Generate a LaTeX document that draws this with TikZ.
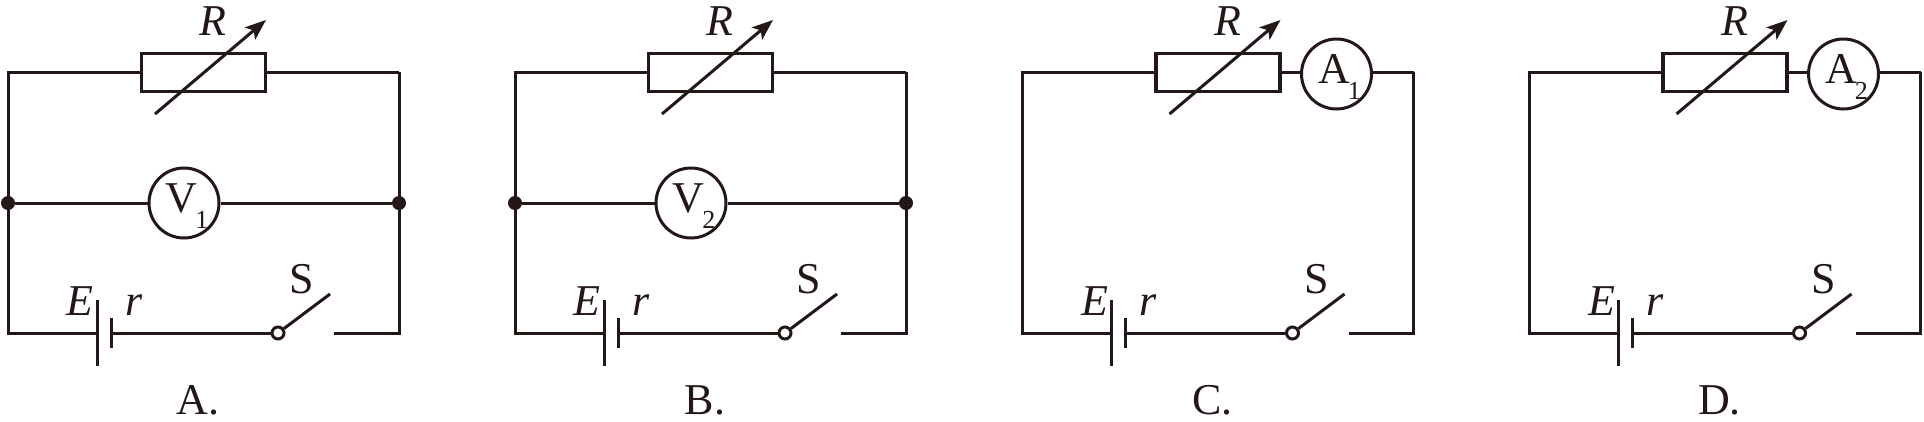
\documentclass[tikz,border=0pt]{standalone}
\usepackage{fontspec}
\setmainfont{Liberation Serif}
\usetikzlibrary{arrows.meta}
\definecolor{ink}{HTML}{231815}
\newcommand{\meterlabel}[2]{\hspace*{6pt}#1\kern-2pt\raisebox{-16pt}[18pt][10pt]{\fontsize{26}{26}\selectfont #2}}
\tikzset{
  wire/.style={draw=ink,line width=3pt,line join=miter},
  rheo/.style={draw=ink,line width=3.2pt,minimum width=124pt,minimum height=38pt,inner sep=0pt,fill=none},
  meter/.style={draw=ink,line width=3pt,circle,minimum size=70pt,inner sep=0pt,text=ink,font=\fontsize{44}{44}\selectfont},
  dotj/.style={circle,fill=ink,minimum size=14pt,inner sep=0pt},
  swpin/.style={circle,draw=ink,line width=3pt,fill=white,minimum size=12pt,inner sep=0pt},
  lab/.style={text=ink,inner sep=0pt,font=\fontsize{44}{44}\selectfont},
  slider/.style={wire,-{Stealth[length=21pt,width=16pt,inset=5pt]}}
}
% common part of each circuit: #1 shift, #2 panel letter
\newcommand{\common}[2]{%
  \coordinate (#2tl) at (8,72);
  \coordinate (#2tr) at (399,72);
  \coordinate (#2bl) at (8,333);
  \coordinate (#2br) at (399,333);
  \node[rheo] (#2rh) at (203.5,72.5) {};
  \coordinate (#2sa) at (155,114);
  \coordinate (#2sb) at (266,20);
  \draw[slider] (#2sa) -- (#2sb);
  \node[lab] (#2R) at (213,21) {\textit{R}};
  \node[lab] (#2E) at (80,301) {\textit{E}};
  \node[lab] (#2r) at (134,305) {\textit{r}};
  \node[lab] (#2S) at (302,279) {S};
  \node[lab] (#2cap) at (198,400) {#2.};
  \coordinate (#2pa) at (97,300);
  \coordinate (#2pb) at (97,366);
  \coordinate (#2na) at (111,318);
  \coordinate (#2nb) at (111,348);
  \coordinate (#2pm) at (97,333);
  \coordinate (#2nm) at (111,333);
  \draw[wire] (#2pa) -- (#2pb);
  \draw[wire] (#2na) -- (#2nb);
  \node[swpin] (#2pin) at (278,333) {};
  \coordinate (#2blade) at (330,294);
  \coordinate (#2cont) at (334,333);
  \draw[wire] (#2pin) -- (#2blade);
  \draw[wire] (#2nm) -- (#2pin);
  \draw[wire] (#2pm) -- (#2bl) -- (#2tl) -- (#2rh.west |- #2tl);
  \draw[wire] (#2cont) -- (#2br) -- (#2tr);
}
\newcommand{\voltpanel}[3]{%
  \begin{scope}[shift={(#1,0)}]
    \common{#1}{#2}
    \draw[wire] (#2tr) -- (#2rh.east |- #2tr);
    \coordinate (#2jl) at (8,203);
    \coordinate (#2jr) at (399,203);
    \node[meter] (#2m) at (184,203) {\meterlabel{V}{#3}};
    \node[dotj] (#2dl) at (#2jl) {};
    \node[dotj] (#2dr) at (#2jr) {};
    \draw[wire] (#2dl) -- (#2m);
    \draw[wire] (#2m) -- (#2dr);
  \end{scope}
}
\newcommand{\amppanel}[3]{%
  \begin{scope}[shift={(#1,0)}]
    \common{#1}{#2}
    \node[meter] (#2m) at (322,74) {\meterlabel{A}{#3}};
    \draw[wire] (#2rh.east |- #2tr) -- (#2m.west |- #2tr);
    \draw[wire] (#2m.east |- #2tr) -- (#2tr);
  \end{scope}
}
\begin{document}
\begin{tikzpicture}[x=1pt,y=-1pt]
  \useasboundingbox (0,0) rectangle (1924,421);
  \voltpanel{0}{A}{1}
  \voltpanel{507}{B}{2}
  \amppanel{1014.5}{C}{1}
  \amppanel{1521.5}{D}{2}
\end{tikzpicture}
\end{document}
